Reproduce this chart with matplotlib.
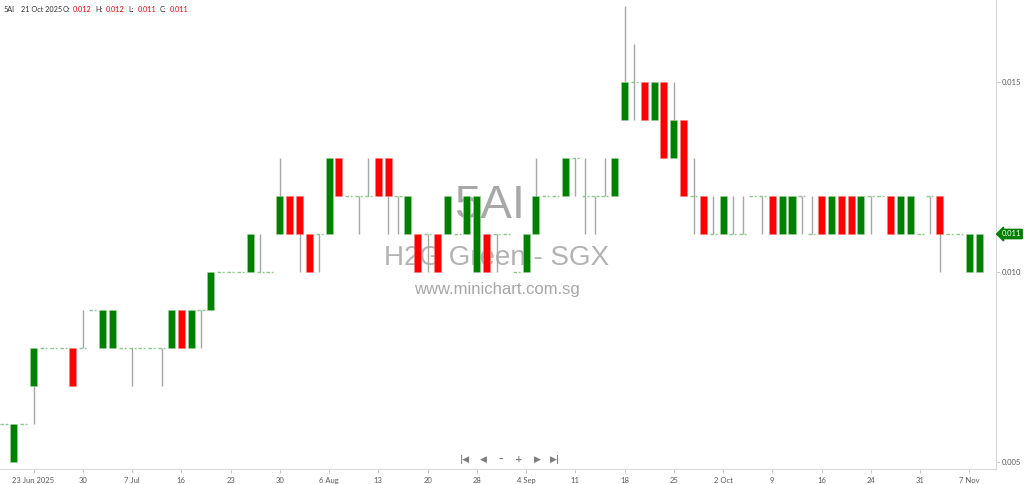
import matplotlib
matplotlib.use("Agg")
from matplotlib import pyplot as plt

# daily OHLC for 5AI (prices in SGD)
opens = [0.006, 0.005, 0.006, 0.007, 0.008, 0.008, 0.008, 0.008, 0.008, 0.009,
         0.008, 0.008, 0.008, 0.008, 0.008, 0.008, 0.008, 0.008, 0.009, 0.008,
         0.009, 0.009, 0.010, 0.010, 0.010, 0.010, 0.010, 0.010, 0.011, 0.012,
         0.012, 0.011, 0.011, 0.011, 0.013, 0.012, 0.012, 0.012, 0.013, 0.013,
         0.012, 0.011, 0.011, 0.011, 0.011, 0.011, 0.011, 0.011, 0.010, 0.011,
         0.011, 0.011, 0.010, 0.010, 0.011, 0.012, 0.012, 0.012, 0.013, 0.012,
         0.012, 0.012, 0.012, 0.014, 0.015, 0.015, 0.014, 0.015, 0.013, 0.014,
         0.012, 0.012, 0.011, 0.011, 0.011, 0.011, 0.012, 0.012, 0.012, 0.011,
         0.011, 0.012, 0.011, 0.012, 0.011, 0.012, 0.012, 0.011, 0.012, 0.012,
         0.012, 0.011, 0.011, 0.011, 0.012, 0.012, 0.011, 0.011, 0.010, 0.010]
highs = [0.006, 0.006, 0.006, 0.008, 0.008, 0.008, 0.008, 0.008, 0.009, 0.009,
         0.009, 0.009, 0.008, 0.008, 0.008, 0.008, 0.008, 0.009, 0.009, 0.009,
         0.009, 0.010, 0.010, 0.010, 0.010, 0.011, 0.011, 0.010, 0.013, 0.012,
         0.012, 0.011, 0.011, 0.013, 0.013, 0.012, 0.012, 0.013, 0.013, 0.013,
         0.012, 0.012, 0.011, 0.011, 0.011, 0.012, 0.011, 0.012, 0.012, 0.011,
         0.011, 0.011, 0.010, 0.011, 0.013, 0.012, 0.012, 0.013, 0.013, 0.013,
         0.012, 0.013, 0.013, 0.017, 0.016, 0.015, 0.015, 0.015, 0.015, 0.014,
         0.013, 0.012, 0.012, 0.012, 0.012, 0.012, 0.012, 0.012, 0.012, 0.012,
         0.012, 0.012, 0.012, 0.012, 0.012, 0.012, 0.012, 0.012, 0.012, 0.012,
         0.012, 0.012, 0.012, 0.011, 0.012, 0.012, 0.011, 0.011, 0.011, 0.011]
lows = [0.006, 0.005, 0.006, 0.006, 0.008, 0.008, 0.008, 0.007, 0.008, 0.009,
        0.008, 0.008, 0.008, 0.007, 0.008, 0.008, 0.007, 0.008, 0.008, 0.008,
        0.008, 0.009, 0.010, 0.010, 0.010, 0.010, 0.010, 0.010, 0.011, 0.011,
        0.010, 0.010, 0.010, 0.011, 0.012, 0.012, 0.011, 0.012, 0.012, 0.011,
        0.011, 0.011, 0.010, 0.010, 0.010, 0.011, 0.011, 0.011, 0.010, 0.010,
        0.010, 0.011, 0.010, 0.010, 0.011, 0.012, 0.012, 0.012, 0.012, 0.011,
        0.011, 0.012, 0.012, 0.014, 0.014, 0.014, 0.014, 0.013, 0.013, 0.012,
        0.011, 0.011, 0.011, 0.011, 0.011, 0.011, 0.012, 0.011, 0.011, 0.011,
        0.011, 0.011, 0.011, 0.011, 0.011, 0.011, 0.011, 0.011, 0.011, 0.012,
        0.011, 0.011, 0.011, 0.011, 0.011, 0.010, 0.011, 0.011, 0.010, 0.010]
closes = [0.006, 0.006, 0.006, 0.008, 0.008, 0.008, 0.008, 0.007, 0.008, 0.009,
          0.009, 0.009, 0.008, 0.008, 0.008, 0.008, 0.008, 0.009, 0.008, 0.009,
          0.009, 0.010, 0.010, 0.010, 0.010, 0.011, 0.010, 0.010, 0.012, 0.011,
          0.011, 0.010, 0.011, 0.013, 0.012, 0.012, 0.012, 0.012, 0.012, 0.012,
          0.012, 0.012, 0.010, 0.011, 0.010, 0.012, 0.011, 0.012, 0.012, 0.010,
          0.011, 0.011, 0.010, 0.011, 0.012, 0.012, 0.012, 0.013, 0.013, 0.012,
          0.012, 0.012, 0.013, 0.015, 0.015, 0.014, 0.015, 0.013, 0.014, 0.012,
          0.012, 0.011, 0.011, 0.012, 0.011, 0.011, 0.012, 0.012, 0.011, 0.012,
          0.012, 0.012, 0.011, 0.011, 0.012, 0.011, 0.011, 0.012, 0.012, 0.012,
          0.011, 0.012, 0.012, 0.011, 0.012, 0.011, 0.011, 0.011, 0.011, 0.011]

tick_pos = [3, 8, 13, 18, 23, 28, 33, 38, 43, 48, 53, 58, 63, 68, 73, 78, 83, 88, 93, 98]
tick_labels = ["23 Jun 2025", "30", "7 Jul", "16", "23", "30", "6 Aug", "13", "20", "28",
               "4 Sep", "11", "18", "25", "2 Oct", "9", "16", "24", "31", "7 Nov"]
price_ticks = [0.005, 0.010, 0.015]

up_col = "#008000"
down_col = "#ff0000"
flat_col = "#8cc78c"
wick_col = "#a6a6a6"
txt_col = "#595959"
font = "Lato"

fig = plt.figure(figsize=(10.24, 4.84), dpi=100)
ax = fig.add_axes([0, 15 / 484, 996 / 1024, 469 / 484])

# watermark behind the candles
ax.text(0.492, 0.561, "5AI", transform=ax.transAxes, ha="center", va="center",
        fontsize=34, color="#a8a8a8", family="Liberation Sans", zorder=0)
ax.text(0.499, 0.45, "H2G Green - SGX", transform=ax.transAxes, ha="center", va="center",
        fontsize=20, color="#b3b3b3", family="Liberation Sans", zorder=0)
ax.text(0.499, 0.382, "www.minichart.com.sg", transform=ax.transAxes, ha="center", va="center",
        fontsize=12, color="#a6a6a6", family="Liberation Sans", zorder=0)

w = 0.72
for i in range(len(opens)):
    o, h, l, c = opens[i], highs[i], lows[i], closes[i]
    if h > l:
        ax.vlines(i, l, h, color=wick_col, lw=1.0, zorder=1)
    if abs(c - o) < 1e-9:
        ax.hlines(o, i - w / 2, i + w / 2, color=flat_col, lw=1.0, linestyles=(0, (2.5, 1.2)), zorder=2)
    else:
        col = up_col if c > o else down_col
        ax.bar(i, abs(c - o), bottom=min(o, c), width=w, color=col,
               edgecolor="#9fd49f" if c > o else "#ff8080", linewidth=0.4, zorder=3)

ax.set_xlim(-4 / 9.85, 992 / 9.85)
ax.set_ylim(0.005 - 7 / 38 * 0.001, 0.005 + 462 / 38 * 0.001)

ax.yaxis.tick_right()
ax.set_yticks(price_ticks)
ax.set_yticklabels(["%.3f" % p for p in price_ticks])
ax.set_xticks(tick_pos)
ax.set_xticklabels(tick_labels)
ax.tick_params(axis="both", length=3, width=0.6, color="#bfbfbf", labelsize=5.5,
               labelcolor=txt_col, pad=1.5)
ax.tick_params(axis="x", pad=3)
for lab in ax.get_xticklabels() + ax.get_yticklabels():
    lab.set_family(font)

for s in ["top", "left"]:
    ax.spines[s].set_visible(False)
for s in ["right", "bottom"]:
    ax.spines[s].set_color("#d9d9d9")
    ax.spines[s].set_linewidth(0.8)

# last price tag
ax.annotate("%.3f" % closes[-1], xy=(1, closes[-1]), xycoords=("axes fraction", "data"),
            xytext=(4, 0), textcoords="offset points", va="center", ha="left",
            fontsize=5.5, color="white", family=font, annotation_clip=False,
            bbox=dict(boxstyle="larrow,pad=0.15", fc=up_col, ec=up_col))

# header line
hy = 1 - 10 / 484
hdr = [(4, "5AI", "#333333"), (21, "21 Oct 2025", "#333333"),
       (63, "O:", "#333333"), (73, "0.012", "#ff0000"),
       (95, "H:", "#333333"), (106, "0.012", "#ff0000"),
       (128, "L:", "#333333"), (138, "0.011", "#ff0000"),
       (160, "C:", "#333333"), (170, "0.011", "#ff0000")]
for hx, s, col in hdr:
    fig.text(hx / 1024, hy, s, fontsize=5.2, color=col, family=font, va="center")

# navigation buttons
ny = 1 - 459 / 484
for nx, sym in [(465, "|◀"), (483, "◀"), (501, "–"), (519, "+"), (537, "▶"), (555, "▶|")]:
    fig.text(nx / 1024, ny, sym, fontsize=6.5, color="#7f7f7f", ha="center", va="center",
             family="DejaVu Sans", fontweight="bold")

fig.savefig("out.png", dpi=100)
